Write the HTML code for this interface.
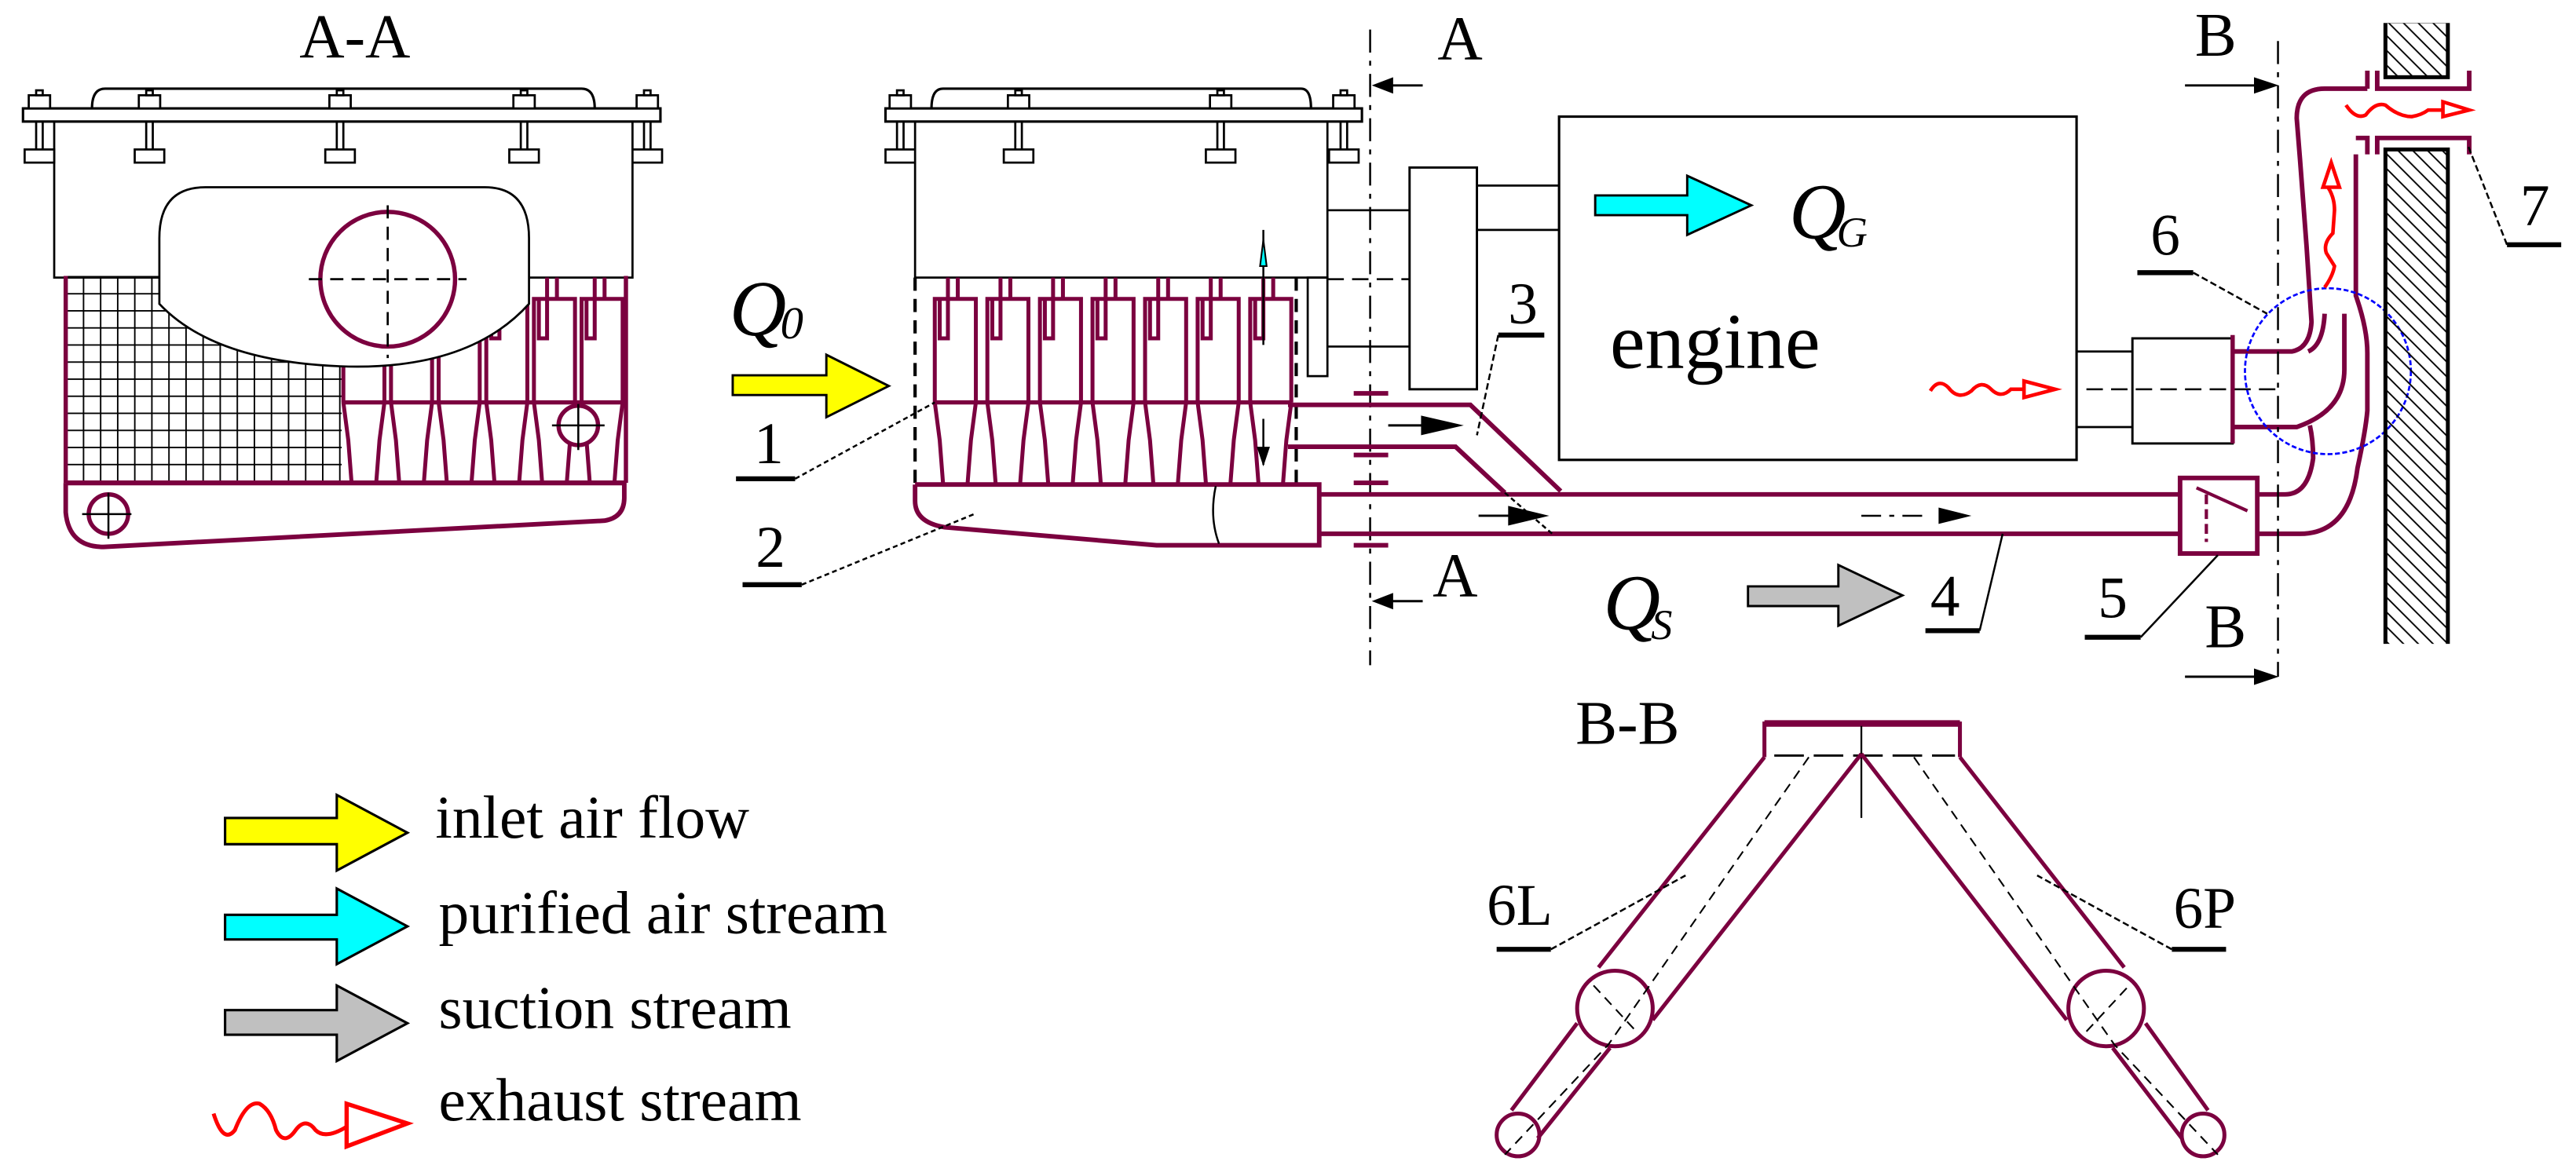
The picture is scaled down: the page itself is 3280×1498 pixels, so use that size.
<!DOCTYPE html>
<html><head><meta charset="utf-8"><style>
html,body{margin:0;padding:0;background:#fff;}
svg{display:block;}
svg text{font-family:"Liberation Serif","Times New Roman",Tinos,"DejaVu Serif",serif;}
</style></head><body>
<svg width="3280" height="1498" viewBox="0 0 1568 716" preserveAspectRatio="none" xmlns="http://www.w3.org/2000/svg">
<defs>
<pattern id="mesh" x="40" y="168" width="10.4" height="10.4" patternUnits="userSpaceOnUse">
<path d="M0,0 V10.4 M0,0 H10.4" stroke="#000" stroke-width="1.8" fill="none"/>
</pattern>
<pattern id="hatch" x="0" y="0" width="9" height="9" patternUnits="userSpaceOnUse">
<path d="M-1,-1 L10,10 M-1,8 L1,10 M8,-1 L10,1" stroke="#000" stroke-width="0.9"/>
</pattern>
<g id="cyc" fill="none" stroke="#7b003f" stroke-width="2.4">
<path d="M9,169 V182 M15,169 V182"/>
<path d="M1,245 V182 H26 V245"/>
<path d="M4,182 V206 H9 V182"/>
<path d="M1,245 L4,268 L6,294 M26,245 L23,268 L21,294"/>
</g>
<g id="bolt" fill="#fff" stroke="#000" stroke-width="1.3">
<rect x="-6.5" y="58" width="13" height="8"/>
<rect x="-2" y="55" width="4" height="3"/>
<path d="M-2,74 V91 M2,74 V91"/>
<rect x="-9" y="91" width="18" height="8"/>
</g>
</defs>
<g font-family="Liberation Serif, Times New Roman, serif">

<text x="216" y="35" font-size="38" text-anchor="middle">A-A</text>
<path d="M56,66 Q56,54 64,54 H354 Q362,54 362,66" fill="none" stroke="#000" stroke-width="1.5"/>
<rect x="33" y="74" width="352" height="95" fill="#fff" stroke="#000" stroke-width="1.3"/>
<rect x="14" y="66" width="388" height="8" fill="#fff" stroke="#000" stroke-width="1.5"/>
<use href="#bolt" x="24"/><use href="#bolt" x="91"/><use href="#bolt" x="207"/><use href="#bolt" x="319"/><use href="#bolt" x="394"/>
<rect x="40" y="168" width="168" height="126" fill="url(#mesh)"/>
<g>
<use href="#cyc" x="208"/><use href="#cyc" x="237"/><use href="#cyc" x="266"/><use href="#cyc" x="295"/><use href="#cyc" x="324"/><use href="#cyc" x="353"/>
</g>
<line x1="208" y1="245" x2="381" y2="245" stroke="#7b003f" stroke-width="2.6"/>
<path d="M97,185 V145 Q97,114 125,114 H295 Q322,114 322,145 V185 Q285,226 207,223 Q130,220 97,185 Z" fill="#fff" stroke="#000" stroke-width="1.3"/>
<ellipse cx="236" cy="170" rx="41" ry="41" fill="none" stroke="#7b003f" stroke-width="2.6"/>
<path d="M188,170 H284 M236,125 V218" stroke="#000" stroke-width="1.3" stroke-dasharray="8,5"/>
<path d="M40,168 V294 M381,168 V294" stroke="#7b003f" stroke-width="2.6"/>
<path d="M40,294 H381" stroke="#7b003f" stroke-width="3"/>
<path d="M40,294 V312 Q42,333 63,333 L368,317 Q380,315 380,303 V294" fill="none" stroke="#7b003f" stroke-width="2.8"/>
<circle cx="66" cy="313" r="12" fill="none" stroke="#7b003f" stroke-width="2.6"/>
<path d="M50,313 H80 M66,300 V328" stroke="#000" stroke-width="1.2"/>
<circle cx="352" cy="259" r="12" fill="#fff" stroke="#7b003f" stroke-width="2.6"/>
<path d="M336,259 H368 M352,246 V274" stroke="#000" stroke-width="1.2"/>

<path d="M567,66 Q567,54 574,54 H792 Q798,54 798,66" fill="none" stroke="#000" stroke-width="1.5"/>
<rect x="557" y="74" width="251" height="95" fill="#fff" stroke="#000" stroke-width="1.3"/>
<rect x="539" y="66" width="290" height="8" fill="#fff" stroke="#000" stroke-width="1.5"/>
<use href="#bolt" x="548"/><use href="#bolt" x="620"/><use href="#bolt" x="743"/><use href="#bolt" x="818"/>
<use href="#cyc" x="568"/><use href="#cyc" x="600"/><use href="#cyc" x="632"/><use href="#cyc" x="664"/><use href="#cyc" x="696"/><use href="#cyc" x="728"/><use href="#cyc" x="760"/>
<line x1="568" y1="245" x2="786" y2="245" stroke="#7b003f" stroke-width="2.6"/>
<path d="M557,169 V295 M789,169 V295" stroke="#000" stroke-width="2" stroke-dasharray="8,5"/>
<rect x="796" y="169" width="12" height="60" fill="none" stroke="#000" stroke-width="1.3"/>
<path d="M769,140 V210" stroke="#000" stroke-width="1.2"/>
<path d="M767,162 L769,146 L771,162 Z" fill="#0ff" stroke="#000" stroke-width="1"/>
<path d="M769,255 V283" stroke="#000" stroke-width="1.2"/>
<path d="M765,272 L769,284 L773,272 Z" fill="#000"/>
<path d="M557,295 V305 Q557,318 575,321 L704,332 H803 V295 H557" fill="none" stroke="#7b003f" stroke-width="2.8"/>
<path d="M740,296 Q736,315 742,331" fill="none" stroke="#000" stroke-width="1.2"/>
<text x="444" y="204" font-size="48" font-style="italic">Q</text>
<text x="475" y="206" font-size="28" font-style="italic">0</text>
<path d="M446,228.5 H503 V216 L541,235 L503,254 V240.5 H446 Z" fill="#ff0" stroke="#000" stroke-width="1.4"/>
<text x="459" y="282" font-size="36">1</text>
<path d="M448,291.5 H484" stroke="#000" stroke-width="3"/>
<path d="M484,291.5 L569,245" stroke="#000" stroke-width="1.2" stroke-dasharray="3,2"/>
<text x="460" y="345" font-size="36">2</text>
<path d="M452,356 H488" stroke="#000" stroke-width="3"/>
<path d="M488,356 L593,313" stroke="#000" stroke-width="1.2" stroke-dasharray="3,2"/>

<path d="M834,18 V405" stroke="#000" stroke-width="1.2" stroke-dasharray="14,5,3,5"/>
<text x="875" y="36" font-size="38">A</text>
<path d="M866,52 H846" stroke="#000" stroke-width="1.4"/><path d="M835,52 L848,47 V57 Z" fill="#000"/>
<text x="872" y="363" font-size="38">A</text>
<path d="M866,366 H846" stroke="#000" stroke-width="1.4"/><path d="M835,366 L848,361 V371 Z" fill="#000"/>

<path d="M808,128 H858 M808,211 H858" stroke="#000" stroke-width="1.3"/>
<path d="M808,170 H858" stroke="#000" stroke-width="1.2" stroke-dasharray="10,5"/>
<rect x="858" y="102" width="41" height="135" fill="#fff" stroke="#000" stroke-width="1.4"/>
<path d="M899,113 H949 M899,140 H949" stroke="#000" stroke-width="1.3"/>
<rect x="949" y="71" width="315" height="209" fill="#fff" stroke="#000" stroke-width="1.5"/>
<path d="M971,119 H1027 V107 L1066,125 L1027,143 V131 H971 Z" fill="#0ff" stroke="#000" stroke-width="1.4"/>
<text x="1089" y="145" font-size="48" font-style="italic">Q</text>
<text x="1118" y="150" font-size="26" font-style="italic">G</text>
<text x="980" y="224" font-size="48">engine</text>
<path d="M1175,238 Q1180,230 1186,236 Q1192,244 1200,238 Q1206,231 1212,237 Q1218,243 1224,237 H1232" fill="none" stroke="#f00" stroke-width="2.2"/>
<path d="M1232,232 V242 L1251,237 Z" fill="none" stroke="#f00" stroke-width="2.2"/>
<path d="M1264,214 H1298 M1264,260 H1298" stroke="#000" stroke-width="1.3"/>
<rect x="1298" y="206" width="61" height="64" fill="#fff" stroke="#000" stroke-width="1.4"/>
<path d="M1270,237 H1390" stroke="#000" stroke-width="1.2" stroke-dasharray="10,5"/>
<path d="M1359,204 V270" stroke="#7b003f" stroke-width="2.6"/>

<g fill="none" stroke="#7b003f" stroke-width="2.8">
<path d="M784,246.5 H895 L950,299"/>
<path d="M784,272 H886 L916,300"/>
<path d="M803,301 H1327"/>
<path d="M803,325 H1327"/>
<path d="M824,239.5 H845 M824,277 H845 M824,294 H845 M824,332 H845"/>
<rect x="1327" y="291" width="47" height="46"/>
<path d="M1337,297 L1368,311" stroke-width="2"/>
<path d="M1343,301 V330" stroke-width="2" stroke-dasharray="6,3"/>
<path d="M1359,214 H1395 Q1406,212 1407,196 L1404,150 L1400,97 L1398,72 Q1398,54 1415,54 H1441"/>
<path d="M1441,43 V54 M1447,43 V54 H1503 V43"/>
<path d="M1359,260 H1398 Q1427,250 1427,225 V191"/>
<path d="M1415,191 Q1414,210 1405,214"/>
<path d="M1434,94 V180 Q1441,200 1441,215 V250 Q1440,262 1435,285 Q1430,325 1400,325 H1374"/>
<path d="M1406,259 Q1408,268 1408,279 Q1405,301 1391,301 H1374"/>
<path d="M1434,84 H1441 V94 M1447,94 V84 H1503 V94"/>
</g>
<path d="M845,259 H870" stroke="#000" stroke-width="1.4"/><path d="M865,253 L891,259 L865,265 Z" fill="#000"/>
<path d="M900,314 H922" stroke="#000" stroke-width="1.4"/><path d="M918,308 L943,314 L918,320 Z" fill="#000"/>
<path d="M1133,314 H1175" stroke="#000" stroke-width="1.2" stroke-dasharray="12,5,3,5"/>
<path d="M1180,309 L1200,314 L1180,319 Z" fill="#000"/>
<text x="918" y="197" font-size="36">3</text>
<path d="M912,204 H940" stroke="#000" stroke-width="3"/>
<path d="M912,204 L899,265" stroke="#000" stroke-width="1.2" stroke-dasharray="4,2"/>
<path d="M916,300 L946,326" stroke="#000" stroke-width="1.2" stroke-dasharray="3,2"/>
<text x="1175" y="375" font-size="36">4</text>
<path d="M1172,384 H1205" stroke="#000" stroke-width="3"/>
<path d="M1205,384 L1219,325" stroke="#000" stroke-width="1.2"/>
<text x="1277" y="376" font-size="36">5</text>
<path d="M1269,388 H1303" stroke="#000" stroke-width="3"/>
<path d="M1303,388 L1350,338" stroke="#000" stroke-width="1.2"/>
<text x="976" y="383" font-size="48" font-style="italic">Q</text>
<text x="1005" y="389" font-size="26" font-style="italic">S</text>
<path d="M1064,357 H1119 V344 L1158,362.5 L1119,381 V369 H1064 Z" fill="#c0c0c0" stroke="#000" stroke-width="1.4"/>

<path d="M1386.6,25 V412" stroke="#000" stroke-width="1.2" stroke-dasharray="14,5,3,5"/>
<text x="1336" y="34" font-size="38">B</text>
<path d="M1330,52 H1375" stroke="#000" stroke-width="1.4"/><path d="M1387,52 L1372,47 V57 Z" fill="#000"/>
<text x="1342" y="394" font-size="38">B</text>
<path d="M1330,412 H1375" stroke="#000" stroke-width="1.4"/><path d="M1387,412 L1372,407 V417 Z" fill="#000"/>
<circle cx="1417" cy="226" r="50.5" fill="none" stroke="#00f" stroke-width="1.3" stroke-dasharray="3,1.5"/>
<path d="M1415,175 Q1420,168 1421,162 L1416,154 Q1414,148 1420,142 L1421,128 Q1421,120 1417,114" fill="none" stroke="#f00" stroke-width="2.2"/>
<path d="M1414,114 H1424 L1419,99 Z" fill="none" stroke="#f00" stroke-width="2.2"/>
<path d="M1428,64 Q1434,73 1440,70 Q1446,62 1452,64 Q1460,71 1468,71 Q1474,70 1478,67 H1487" fill="none" stroke="#f00" stroke-width="2.2"/>
<path d="M1487,62 V71 L1503,67 Z" fill="none" stroke="#f00" stroke-width="2.2"/>
<rect x="1452" y="13" width="38" height="34" fill="url(#hatch)" stroke="#000" stroke-width="2.4"/>
<rect x="1452" y="91" width="38" height="303" fill="url(#hatch)" stroke="#000" stroke-width="2.4"/>
<rect x="1450" y="10" width="42" height="4" fill="#fff"/>
<rect x="1450" y="392" width="42" height="6" fill="#fff"/>
<text x="1309" y="155" font-size="36">6</text>
<path d="M1301,166 H1335" stroke="#000" stroke-width="3"/>
<path d="M1335,166 L1380,191" stroke="#000" stroke-width="1.2" stroke-dasharray="4,2"/>
<text x="1534" y="137" font-size="36">7</text>
<path d="M1526,149 H1559" stroke="#000" stroke-width="3"/>
<path d="M1526,149 L1502,88" stroke="#000" stroke-width="1.2" stroke-dasharray="4,2"/>

<text x="959" y="453" font-size="38">B-B</text>
<path d="M1074,461 V440.5 H1193 V461" fill="none" stroke="#7b003f" stroke-width="2.4"/>
<path d="M1074,440.5 H1193" stroke="#7b003f" stroke-width="4"/>
<path d="M1080,460 H1190" stroke="#000" stroke-width="1.4" stroke-dasharray="18,6"/>
<path d="M1133,442 V498" stroke="#000" stroke-width="1.1"/>
<g fill="none" stroke="#7b003f" stroke-width="2.4">
<path d="M1074,461 L973,589"/>
<path d="M1133,459 L1006,621"/>
<path d="M1193,461 L1293,589"/>
<path d="M1133,459 L1258,621"/>
<circle cx="983" cy="614" r="23"/>
<circle cx="1282" cy="614" r="23"/>
<path d="M960,623 L920,676 M980,638 L936,693"/>
<path d="M1306,623 L1344,676 M1286,638 L1328,693"/>
<circle cx="924" cy="691" r="13"/>
<circle cx="1341" cy="691" r="13"/>
</g>
<g stroke="#000" stroke-width="1" stroke-dasharray="6,4" fill="none">
<path d="M1101,461 L979,636 L916,703"/>
<path d="M1165,461 L1287,636 L1350,703"/>
<path d="M970,600 L996,628 M1270,628 L1296,600"/>
</g>
<text x="905" y="563" font-size="36">6L</text>
<path d="M911,578 H944" stroke="#000" stroke-width="3"/>
<path d="M944,578 L1026,533" stroke="#000" stroke-width="1.2" stroke-dasharray="4,2"/>
<text x="1323" y="565" font-size="36">6P</text>
<path d="M1322,578 H1355" stroke="#000" stroke-width="3"/>
<path d="M1322,578 L1240,533" stroke="#000" stroke-width="1.2" stroke-dasharray="4,2"/>

<g stroke="#000" stroke-width="1.5">
<path d="M137,498 H205 V484 L248,507 L205,530 V514 H137 Z" fill="#ff0"/>
<path d="M137,557 H205 V541 L248,564 L205,587 V572 H137 Z" fill="#0ff"/>
<path d="M137,615 H205 V600 L248,623 L205,646 V630 H137 Z" fill="#c0c0c0"/>
</g>
<path d="M130,678 Q136,697 143,688 Q150,670 158,672 Q165,676 168,688 Q173,698 180,688 Q186,680 192,688 Q198,694 211,686" fill="none" stroke="#f00" stroke-width="2.4"/>
<path d="M211,672 V698 L248,684 Z" fill="none" stroke="#f00" stroke-width="2.6"/>
<text x="265" y="510" font-size="37">inlet air flow</text>
<text x="267" y="568" font-size="37">purified air stream</text>
<text x="267" y="626" font-size="37">suction stream</text>
<text x="267" y="682" font-size="37">exhaust stream</text>
</g>
</svg>
</body></html>
